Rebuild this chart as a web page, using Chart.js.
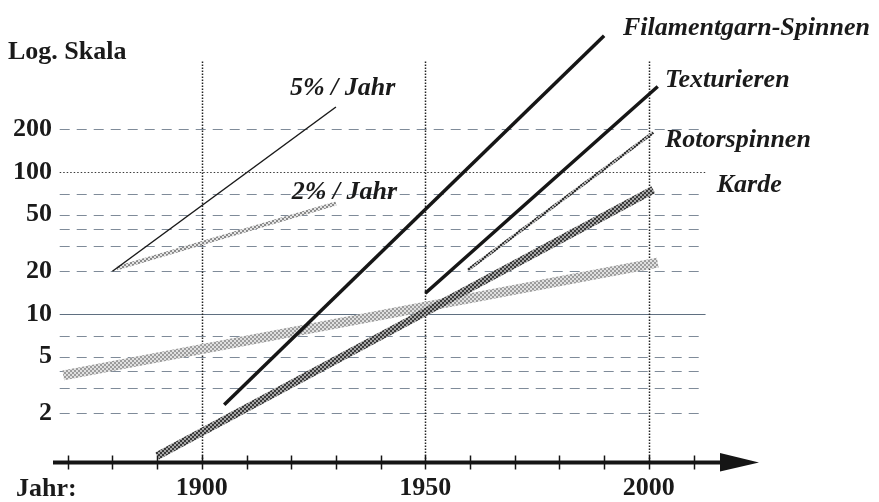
<!DOCTYPE html>
<html>
<head>
<meta charset="utf-8">
<script src="https://cdn.jsdelivr.net/npm/chart.js@4.4.1/dist/chart.umd.min.js"></script>
<style>
  html, body { margin: 0; padding: 0; background: #fff; }
  #wrap { width: 879px; height: 502px; position: relative; }
</style>
</head>
<body>
<div id="wrap"><canvas id="growth"></canvas></div>
<script>
"use strict";

// Jahr-Achse
const xTickLabels = [1900, 1950, 2000];
const xMinorTicks = [1870, 1880, 1890, 1900, 1910, 1920, 1930, 1940, 1950, 1960, 1970, 1980, 1990, 2000, 2010];
const xVerticalLines = [1900, 1950, 2000];

// Log. Skala
const yTickLabels = [2, 5, 10, 20, 50, 100, 200];
const yDashedLines = [2, 3, 4, 5, 7, 20, 30, 40, 50, 70, 200];
const yDottedLines = [100];
const ySolidLines = [10];

// Serien: Anfang und Ende (Jahr, Wert)
const seriesNames = ["5% / Jahr", "2% / Jahr", "Filamentgarn-Spinnen", "Texturieren", "Rotorspinnen", "Karde", ""];
const startYears  = [1880, 1881, 1905, 1950, 1959.5, 1890, 1869];
const startValues = [20, 21, 2.3, 14, 20.4, 1.0, 3.7];
const endYears    = [1930, 1930, 1990, 2002, 2001, 2001, 2002];
const endValues   = [287, 60, 910, 400, 190, 75, 23];

// Beschriftung der Serien (Jahr, Wert an der Grundlinie)
const labelYears  = [1919.7, 1920.1, 1994.2, 2003.6, 2003.6, 2015.2, null];
const labelValues = [348, 64.6, 923, 397, 150, 72.3, null];

// gepunktetes Raster wie im Druck
function stipple(fg, bg) {
  const c = document.createElement('canvas');
  c.width = 4;
  c.height = 4;
  const g = c.getContext('2d');
  g.fillStyle = bg;
  g.fillRect(0, 0, 4, 4);
  g.fillStyle = fg;
  g.fillRect(0, 0, 2, 2);
  g.fillRect(2, 2, 2, 2);
  return g.createPattern(c, 'repeat');
}

const lineStyles = [
  {color: '#1a1a1a', width: 1.5},
  {color: stipple('#8a8a8a', '#e4e4e4'), width: 4},
  {color: '#161616', width: 3.5},
  {color: '#161616', width: 3.5},
  {color: stipple('#333333', '#b0b0b0'), width: 3},
  {color: stipple('#3a3a3a', '#a8a8a8'), width: 8},
  {color: stipple('#9c9c9c', '#e0e0e0'), width: 10},
];

const serif = '"Liberation Serif", "Times New Roman", serif';
const ink = '#1a1a1a';

const sketch = {
  id: 'sketch',
  beforeDatasetsDraw(chart) {
    const ctx = chart.ctx;
    const x = chart.scales.x, y = chart.scales.y;
    const left = x.getPixelForValue(1868.2);
    const right = x.getPixelForValue(2012.7);
    ctx.save();
    function hline(v) {
      const py = Math.round(y.getPixelForValue(v)) + 0.5;
      ctx.beginPath();
      ctx.moveTo(left, py);
      ctx.lineTo(right, py);
      ctx.stroke();
    }
    ctx.lineWidth = 1;
    ctx.strokeStyle = '#7f8b99';
    ctx.setLineDash([10, 7]);
    yDashedLines.forEach(hline);
    ctx.strokeStyle = '#3a3a3a';
    ctx.setLineDash([1.5, 2]);
    yDottedLines.forEach(hline);
    ctx.strokeStyle = '#5f6f80';
    ctx.setLineDash([]);
    ySolidLines.forEach(hline);

    // senkrechte Linien
    ctx.strokeStyle = '#222';
    ctx.lineWidth = 1.5;
    ctx.setLineDash([1.5, 1.5]);
    const top = y.getPixelForValue(600);
    xVerticalLines.forEach(v => {
      const px = Math.round(x.getPixelForValue(v)) + 0.5;
      ctx.beginPath();
      ctx.moveTo(px, top);
      ctx.lineTo(px, chart.chartArea.bottom);
      ctx.stroke();
    });
    ctx.restore();
  },
  afterDraw(chart) {
    const ctx = chart.ctx;
    const x = chart.scales.x, y = chart.scales.y;
    const axisY = chart.chartArea.bottom + 0.5;
    ctx.save();

    // Zeitachse mit Pfeil
    ctx.strokeStyle = '#151515';
    ctx.lineWidth = 4;
    ctx.beginPath();
    ctx.moveTo(chart.chartArea.left, axisY);
    ctx.lineTo(722, axisY);
    ctx.stroke();
    ctx.fillStyle = '#151515';
    ctx.beginPath();
    ctx.moveTo(720, axisY - 9.5);
    ctx.lineTo(759, axisY);
    ctx.lineTo(720, axisY + 9);
    ctx.closePath();
    ctx.fill();
    ctx.lineWidth = 1.5;
    xMinorTicks.forEach(v => {
      const px = Math.round(x.getPixelForValue(v)) + 0.5;
      ctx.beginPath();
      ctx.moveTo(px, axisY - 7);
      ctx.lineTo(px, axisY + 7);
      ctx.stroke();
    });

    // Beschriftungen
    ctx.fillStyle = ink;
    ctx.textBaseline = 'alphabetic';
    ctx.textAlign = 'left';
    ctx.font = 'bold 26px ' + serif;
    ctx.fillText('Log. Skala', 8, 59);
    ctx.fillText('Jahr:', 16, 496);

    ctx.font = 'italic bold 26px ' + serif;
    seriesNames.forEach((name, i) => {
      if (!name || labelYears[i] === null) return;
      ctx.fillText(name, x.getPixelForValue(labelYears[i]), y.getPixelForValue(labelValues[i]));
    });
    ctx.restore();
  }
};

new Chart(document.getElementById('growth'), {
  type: 'line',
  data: {
    datasets: seriesNames.map((name, i) => ({
      label: name,
      data: [{x: startYears[i], y: startValues[i]}, {x: endYears[i], y: endValues[i]}],
      borderColor: lineStyles[i].color,
      borderWidth: lineStyles[i].width,
      pointRadius: 0,
      tension: 0,
      fill: false,
    })),
  },
  options: {
    responsive: true,
    maintainAspectRatio: false,
    animation: false,
    layout: { padding: 0 },
    scales: {
      x: {
        type: 'linear',
        min: 1866.7,
        max: 2051.5,
        bounds: 'data',
        afterBuildTicks: s => { s.ticks = xTickLabels.map(v => ({value: v})); },
        afterFit: s => { s.height = 40; s.paddingLeft = 0; s.paddingRight = 0; },
        grid: { display: false, drawTicks: false },
        border: { display: false },
        ticks: {
          autoSkip: false,
          maxRotation: 0,
          padding: 11,
          color: ink,
          font: { family: serif, weight: 'bold', size: 26 },
          callback: v => String(v),
        },
      },
      y: {
        type: 'logarithmic',
        min: 0.9073,
        max: 1627,
        bounds: 'data',
        afterBuildTicks: s => { s.ticks = yTickLabels.map(v => ({value: v})); },
        afterFit: s => { s.width = 53; s.paddingTop = 0; s.paddingBottom = 0; },
        grid: { display: false, drawTicks: false },
        border: { display: false },
        ticks: {
          autoSkip: false,
          padding: 1,
          color: ink,
          font: { family: serif, weight: 'bold', size: 26 },
          callback: v => String(v),
        },
      },
    },
    plugins: {
      legend: { display: false },
      tooltip: { enabled: false },
    },
  },
  plugins: [sketch],
});
</script>
</body>
</html>
